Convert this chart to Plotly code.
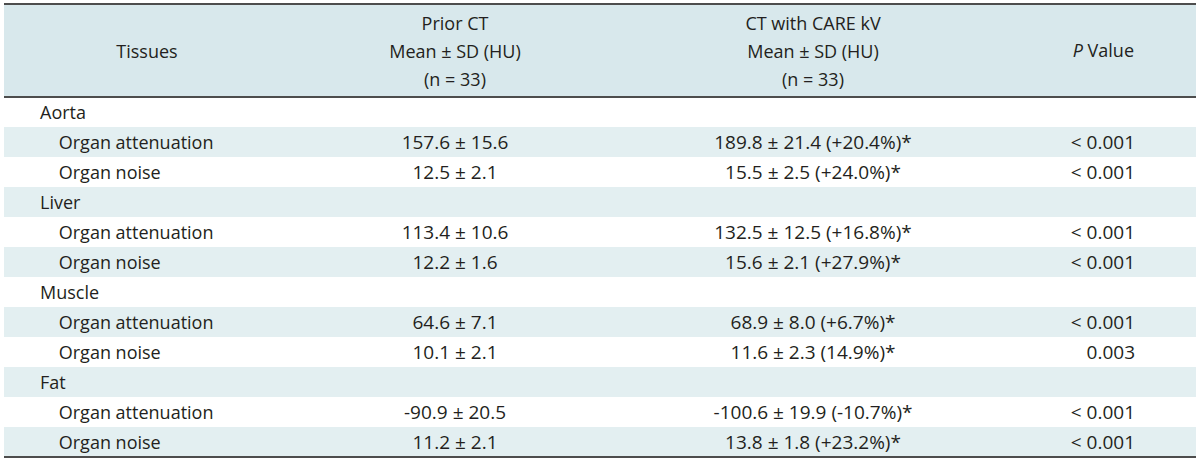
import numpy as np
import plotly.graph_objects as go

# ---- data ----
tissues = ["Aorta", "Liver", "Muscle", "Fat"]
measures = ["Organ attenuation", "Organ noise"]
prior_mean = [157.6, 12.5, 113.4, 12.2, 64.6, 10.1, -90.9, 11.2]
prior_sd = [15.6, 2.1, 10.6, 1.6, 7.1, 2.1, 20.5, 2.1]
care_mean = [189.8, 15.5, 132.5, 15.6, 68.9, 11.6, -100.6, 13.8]
care_sd = [21.4, 2.5, 12.5, 2.1, 8.0, 2.3, 19.9, 1.8]
care_change = ["+20.4%", "+24.0%", "+16.8%", "+27.9%", "+6.7%", "14.9%", "-10.7%", "+23.2%"]
p_values = ["< 0.001", "< 0.001", "< 0.001", "< 0.001", "< 0.001", "0.003", "< 0.001", "< 0.001"]

header_col1 = ["", "Tissues", ""]
header_col2 = ["Prior CT", "Mean ± SD (HU)", "(n = 33)"]
header_col3 = ["CT with CARE kV", "Mean ± SD (HU)", "(n = 33)"]
header_p = "<i>P</i> Value"

# ---- style ----
W, H = 1200, 461
FAMILY = "Open Sans, sans-serif"
TXT = "#231f20"
FONT = dict(family=FAMILY, size=18, color=TXT)
NUM_SIZE = 19
HEAD_BG = "#d8e8ec"
ROW_BG = "#e3eff1"
WHITE = "#ffffff"
CLEAR = "rgba(0,0,0,0)"
RULE = "#4d4d4d"
LEFT, RIGHT = 4, 1196
TOP, HEAD_BOTTOM, BOTTOM = 4, 97, 457
HEAD_ROW_H = 28
ROW_H = 30
col_widths = [286, 330, 386, 137, 53]
NB = "\u00a0"

def nb(s):
    return s.replace(" ", NB)

IND_CAT = NB * 6
IND_SUB = NB * 10

# build body rows ("<" goes in the per-cell prefix so the row height stays fixed)
labels, c2, c3, c4, pre4 = [], [], [], [], []
k = 0
for t in tissues:
    labels.append(IND_CAT + t); c2.append(""); c3.append(""); c4.append(""); pre4.append("")
    for m in measures:
        labels.append(IND_SUB + nb(m))
        c2.append(nb(f"{prior_mean[k]:.1f} ± {prior_sd[k]:.1f}"))
        c3.append(nb(f"{care_mean[k]:.1f} ± {care_sd[k]:.1f} ({care_change[k]})*"))
        p = p_values[k]
        if p.startswith("<"):
            pre4.append("<" + NB)
            c4.append(p[1:].strip())
        else:
            pre4.append("")
            c4.append(p)
        k += 1
c5 = [""] * len(labels)
fills = [ROW_BG if i % 2 == 1 else WHITE for i in range(len(labels))]

def py(px):
    return 1 - px / H

xdom = [LEFT / W, RIGHT / W]
aligns = ["left", "center", "center", "right", "left"]
head_aligns = ["center", "center", "center", "right", "center"]
noline = dict(width=0, color=CLEAR)
sizes = [18, NUM_SIZE, NUM_SIZE, NUM_SIZE, 18]
body_font = dict(family=FAMILY, size=sizes, color=TXT)

hcols = [header_col1, header_col2, header_col3, ["", "", ""], ["", "", ""]]
hcols = [[nb(v) for v in c] for c in hcols]
header_trace = go.Table(
    domain=dict(x=xdom, y=[py(HEAD_BOTTOM), py(TOP + 4)]),
    columnwidth=col_widths,
    header=dict(values=[c[0] for c in hcols], align=head_aligns,
                fill=dict(color=CLEAR), line=noline, font=FONT, height=HEAD_ROW_H),
    cells=dict(values=[c[1:] for c in hcols], align=head_aligns,
               fill=dict(color=CLEAR), line=noline, font=FONT, height=HEAD_ROW_H),
)

# P Value header (italic markup) as its own single-column table over the P column
x_p0 = LEFT + sum(col_widths[:3])
x_p1 = x_p0 + col_widths[3]
p_trace = go.Table(
    domain=dict(x=[x_p0 / W, x_p1 / W], y=[py(HEAD_BOTTOM), py(30)]),
    header=dict(values=[header_p.replace(" ", NB)], align="right",
                fill=dict(color=CLEAR), line=noline, font=FONT, height=28),
    cells=dict(values=[[""]], fill=dict(color=CLEAR), line=noline, font=FONT, height=2),
)

cols = [labels, c2, c3, c4, c5]
n_body = len(labels) - 1
prefixes = np.array([[""] * n_body, [""] * n_body, [""] * n_body, pre4[1:], [""] * n_body])
body_trace = go.Table(
    domain=dict(x=xdom, y=[0, py(HEAD_BOTTOM)]),
    columnwidth=col_widths,
    header=dict(values=[c[0] for c in cols], align=aligns,
                fill=dict(color=fills[0]), line=noline, font=body_font, height=ROW_H),
    cells=dict(values=[c[1:] for c in cols], align=aligns, prefix=prefixes,
               fill=dict(color=[fills[1:]] * 5), line=noline, font=body_font, height=ROW_H),
)

fig = go.Figure([header_trace, p_trace, body_trace])
shapes = [
    dict(type="rect", xref="paper", yref="paper", x0=LEFT / W, x1=RIGHT / W,
         y0=py(HEAD_BOTTOM), y1=py(TOP), fillcolor=HEAD_BG, line=dict(width=0), layer="below"),
]
for yy in (TOP, HEAD_BOTTOM, BOTTOM):
    shapes.append(dict(type="line", xref="paper", yref="paper", x0=LEFT / W, x1=RIGHT / W,
                       y0=py(yy), y1=py(yy), line=dict(color=RULE, width=2), layer="above"))
fig.update_layout(
    width=W, height=H,
    margin=dict(l=0, r=0, t=0, b=0),
    paper_bgcolor="white", plot_bgcolor="white",
    shapes=shapes,
    font=FONT,
)
fig.write_html("out.html", config={"displayModeBar": False},
               post_script="document.body.style.margin='0';")
